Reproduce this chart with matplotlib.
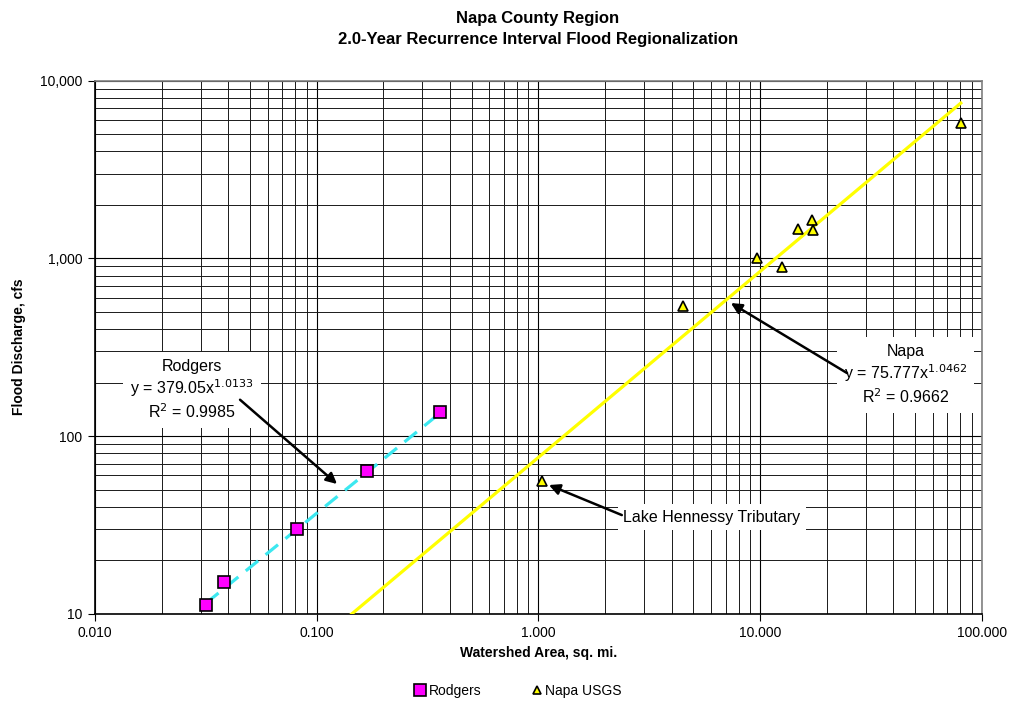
import numpy as np
import matplotlib
matplotlib.use("Agg")
import matplotlib.pyplot as plt
from matplotlib.ticker import FixedLocator, FuncFormatter, LogLocator

plt.rcParams['font.family'] = ['Liberation Sans', 'DejaVu Sans']

# Rodgers watersheds
rodgers_area = [0.0317, 0.0382, 0.0815, 0.169, 0.36]
rodgers_q = [11.2, 15.1, 30, 63.5, 136]

# Napa USGS gauges
napa_area = [1.035, 4.49, 9.7, 12.5, 14.8, 17.1, 17.3, 80.5]
napa_q = [56, 537, 1000, 897, 1457, 1640, 1443, 5795]

# power trend line coefficients (as shown on the chart)
rodgers_a, rodgers_b, rodgers_r2 = 379.05, 1.0133, 0.9985
napa_a, napa_b, napa_r2 = 75.777, 1.0462, 0.9662

fig = plt.figure(figsize=(10.11, 7.10), dpi=100)
ax = fig.add_axes([0.094, 0.1356, 0.877, 0.7509])
ax.set_xscale('log')
ax.set_yscale('log')
ax.set_xlim(0.01, 100)
ax.set_ylim(10, 10000)

# grid - major and minor, all dark
ax.xaxis.set_minor_locator(LogLocator(base=10, subs=np.arange(2, 10)))
ax.yaxis.set_minor_locator(LogLocator(base=10, subs=np.arange(2, 10)))
ax.grid(True, which='major', color='black', linewidth=0.8)
ax.grid(True, which='minor', color='#1a1a1a', linewidth=0.7)
ax.set_axisbelow(True)

# trend lines
xr = np.logspace(np.log10(min(rodgers_area)), np.log10(max(rodgers_area)), 50)
ax.plot(xr, rodgers_a * xr ** rodgers_b, color='#3ce8f0', linewidth=2.3,
        dashes=(5, 3), zorder=3)
xn = np.logspace(-1, np.log10(max(napa_area)), 50)
ax.plot(xn, napa_a * xn ** napa_b, color='#ffff00', linewidth=2.3, zorder=3)

# data points
ax.plot(rodgers_area, rodgers_q, 's', markersize=9, markerfacecolor='#ff00ff',
        markeredgecolor='black', markeredgewidth=1.2, label='Rodgers', zorder=4)
ax.plot(napa_area, napa_q, '^', markersize=7, markerfacecolor='#ffff00',
        markeredgecolor='black', markeredgewidth=1.2, label='Napa USGS', zorder=4)

# axes formatting
ax.xaxis.set_major_locator(FixedLocator([0.01, 0.1, 1, 10, 100]))
ax.yaxis.set_major_locator(FixedLocator([10, 100, 1000, 10000]))
ax.xaxis.set_major_formatter(FuncFormatter(lambda v, p: f"{v:.3f}"))
ax.yaxis.set_major_formatter(FuncFormatter(lambda v, p: f"{v:,.0f}"))
ax.tick_params(which='major', direction='out', length=5, labelsize=10, pad=4)
ax.tick_params(which='minor', length=0)
ax.xaxis.set_minor_formatter(FuncFormatter(lambda v, p: ""))
ax.yaxis.set_minor_formatter(FuncFormatter(lambda v, p: ""))
for s in ['top', 'right']:
    ax.spines[s].set_color('#808080')
    ax.spines[s].set_linewidth(1.2)
for s in ['left', 'bottom']:
    ax.spines[s].set_linewidth(1.2)

ax.set_xlabel('Watershed Area, sq. mi.', fontsize=10, fontweight='bold', labelpad=4)
ax.set_ylabel('Flood Discharge, cfs', fontsize=10, fontweight='bold', labelpad=10)
fig.text(0.532, 0.974, 'Napa County Region', ha='center', va='center',
         fontsize=12, fontweight='bold')
fig.text(0.532, 0.944, '2.0-Year Recurrence Interval Flood Regionalization',
         ha='center', va='center', fontsize=12, fontweight='bold')

box = dict(facecolor='white', edgecolor='none', pad=5)
arrow = dict(arrowstyle='-|>', color='black', lw=1.8, mutation_scale=16,
             shrinkA=0, shrinkB=0)

# label texts
ax.text(0.0274, 181, f"Rodgers\ny = {rodgers_a}x$^{{{rodgers_b}}}$\nR$^2$ = {rodgers_r2}",
        ha='center', va='center', fontsize=11.5, linespacing=1.2, bbox=box, zorder=5)
ax.text(45.5, 220, f"Napa\ny = {napa_a}x$^{{{napa_b}}}$\nR$^2$ = {napa_r2}",
        ha='center', va='center', fontsize=11.5, linespacing=1.2, bbox=box, zorder=5)
ax.text(6.07, 35, "Lake Hennessy Tributary", ha='center', va='center', fontsize=11.5,
        bbox=dict(facecolor='white', edgecolor='none', pad=4), zorder=5)

# arrows
ax.annotate('', xy=(0.1235, 53.7), xytext=(0.0451, 160), arrowprops=arrow, zorder=6)
ax.annotate('', xy=(7.39, 560), xytext=(24.7, 226), arrowprops=arrow, zorder=6)
ax.annotate('', xy=(1.116, 53), xytext=(2.38, 35.9), arrowprops=arrow, zorder=6)

leg = fig.legend(loc='lower center', bbox_to_anchor=(0.512, 0.0), ncol=2, frameon=False,
                 fontsize=10, handletextpad=0.1, columnspacing=3.5, handlelength=1,
                 markerscale=0.9)

fig.savefig('out.png', dpi=100)
